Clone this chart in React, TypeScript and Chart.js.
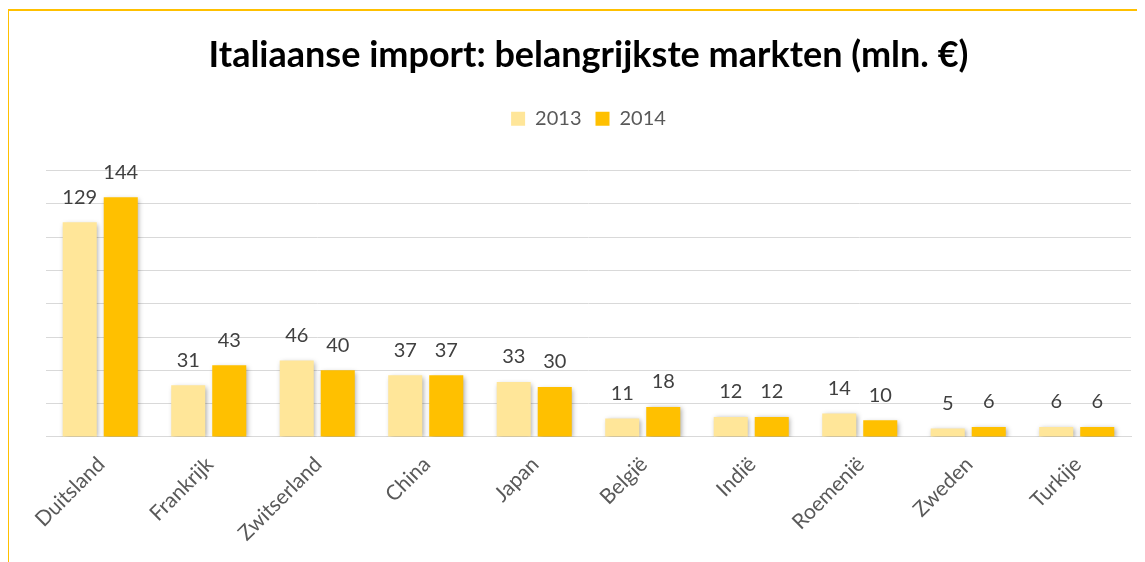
import React, { useEffect, useRef } from "react";
import { Chart, registerables } from "chart.js";

Chart.register(...registerables);

const categories = ["Duitsland", "Frankrijk", "Zwitserland", "China", "Japan", "België", "Indië", "Roemenië", "Zweden", "Turkije"];
const values2013 = [129, 31, 46, 37, 33, 11, 12, 14, 5, 6];
const values2014 = [144, 43, 40, 37, 30, 18, 12, 10, 6, 6];
const seriesLabels = ["2013", "2014"];
const titleText = "Italiaanse import: belangrijkste markten (mln. €)";

const FONT = "Lato, 'Open Sans', sans-serif";

const shadowPlugin = {
  id: "barShadow",
  beforeDatasetsDraw(chart: any) {
    const ctx = chart.ctx;
    ctx.save();
    ctx.shadowColor = "rgba(0,0,0,0.35)";
    ctx.shadowBlur = 5;
    ctx.shadowOffsetX = 1.5;
    ctx.shadowOffsetY = 1.5;
  },
  afterDatasetsDraw(chart: any) {
    chart.ctx.restore();
  },
};

const labelPlugin = {
  id: "valueLabels",
  afterDatasetsDraw(chart: any) {
    const ctx = chart.ctx;
    ctx.save();
    ctx.font = `20px ${FONT}`;
    ctx.fillStyle = "#404040";
    ctx.textAlign = "center";
    ctx.textBaseline = "middle";
    chart.data.datasets.forEach((ds: any, di: number) => {
      const meta = chart.getDatasetMeta(di);
      meta.data.forEach((bar: any, i: number) => {
        ctx.fillText(String(ds.data[i]), bar.x, bar.y - 25);
      });
    });
    ctx.restore();
  },
};

const legendMargin = {
  id: "legendMargin",
  beforeInit(chart: any) {
    const legend = chart.legend;
    if (!legend) return;
    const fit = legend.fit;
    legend.fit = function () {
      fit.call(this);
      this.height += 32;
    };
  },
};

export default function App() {
  const ref = useRef<HTMLCanvasElement>(null);
  useEffect(() => {
    const chart = new Chart(ref.current!, {
      type: "bar",
      data: {
        labels: categories,
        datasets: [
          { label: seriesLabels[0], data: values2013, backgroundColor: "#FFE699", categoryPercentage: 0.756, barPercentage: 0.83 },
          { label: seriesLabels[1], data: values2014, backgroundColor: "#FFC000", categoryPercentage: 0.756, barPercentage: 0.83 },
        ],
      },
      options: {
        animation: false,
        responsive: false,
        layout: { padding: { left: 38, right: 31, top: 0, bottom: 0 } },
        plugins: {
          title: {
            display: true,
            text: titleText,
            color: "#000000",
            font: { family: FONT, size: 36, weight: "bold" },
            padding: { top: 26, bottom: 17.5 },
          },
          legend: {
            display: true,
            position: "top",
            labels: {
              boxWidth: 14,
              boxHeight: 14,
              color: "#595959",
              font: { family: FONT, size: 20 },
              padding: 14,
            },
          },
          tooltip: { enabled: false },
        },
        scales: {
          x: {
            grid: { display: false },
            border: { color: "#D9D9D9", width: 1 },
            ticks: {
              color: "#595959",
              font: { family: FONT, size: 21 },
              maxRotation: 45,
              minRotation: 45,
              padding: 7,
              labelOffset: 1,
            },
          },
          y: {
            min: 0,
            max: 160,
            ticks: { stepSize: 20, display: false },
            grid: { color: "#D9D9D9", lineWidth: 1, drawTicks: false },
            border: { display: false },
          },
        },
      },
      plugins: [shadowPlugin, labelPlugin, legendMargin],
    });
    return () => chart.destroy();
  }, []);

  return (
    <div style={{ position: "relative", width: 1129, height: 554, overflow: "hidden" }}>
      <div
        style={{
          position: "absolute",
          left: -1,
          top: 1,
          width: 2000,
          height: 2000,
          borderTop: "2px solid #FFC000",
          borderLeft: "2px solid #FFC000",
        }}
      />
      <canvas ref={ref} width={1154} height={545} style={{ position: "absolute", left: 0, top: 0 }} />
    </div>
  );
}
